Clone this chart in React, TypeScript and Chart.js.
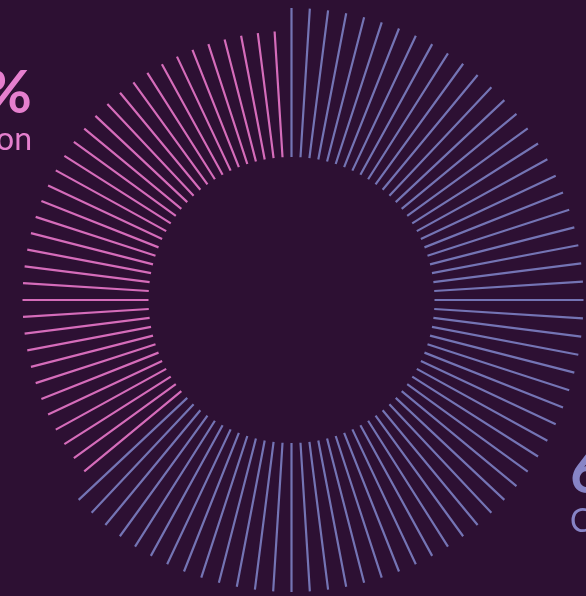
import React, { useEffect, useRef } from "react";
import { Chart, registerables } from "chart.js";

Chart.register(...registerables);

// ---- data ----
const seriesNames = ["Completion", "Abandon"];
const seriesShares = [64, 36]; // percent of the 100 ticks
const shareLabels = ["64%", "36%"];
const totalTicks = 100;

// ---- styling / geometry (not data) ----
const W = 586;
const H = 596;
const CX = 291.5;
const CY = 300;
const INNER_R = 143;
const OUTER_R = [292, 269];
const LINE_COLORS = ["#7474b4", "#d56cba"];
const TEXT_COLORS = ["#8784c6", "#e57fce"];
const BG = "#2d1033";

function buildPoints(startTick: number, count: number, outer: number) {
  const pts: { x: number; y: number | null }[] = [];
  for (let i = 0; i < count; i++) {
    const a = ((startTick + i) / totalTicks) * Math.PI * 2;
    const s = Math.sin(a);
    const c = Math.cos(a);
    pts.push({ x: INNER_R * s, y: INNER_R * c });
    pts.push({ x: outer * s, y: outer * c });
    pts.push({ x: outer * s, y: null });
  }
  return pts;
}

export default function App() {
  const ref = useRef<HTMLCanvasElement | null>(null);

  useEffect(() => {
    if (!ref.current) return;
    let start = 0;
    const datasets = seriesNames.map((name, i) => {
      const ds = {
        label: name,
        data: buildPoints(start, seriesShares[i], OUTER_R[i]),
        showLine: true,
        spanGaps: false,
        borderColor: LINE_COLORS[i],
        backgroundColor: LINE_COLORS[i],
        borderWidth: 2.2,
        borderCapStyle: "butt" as const,
        pointRadius: 0,
        pointHoverRadius: 0,
        fill: false,
        tension: 0,
      };
      start += seriesShares[i];
      return ds;
    });

    const chart = new Chart(ref.current, {
      type: "scatter",
      data: { datasets },
      options: {
        animation: false,
        responsive: false,
        maintainAspectRatio: false,
        layout: { padding: 0 },
        plugins: {
          legend: { display: false },
          tooltip: { enabled: false },
        },
        scales: {
          x: { type: "linear", display: false, min: -CX, max: W - CX },
          y: { type: "linear", display: false, min: -(H - CY), max: CY },
        },
      },
    });
    return () => chart.destroy();
  }, []);

  const font = "Lato, 'Open Sans', sans-serif";

  return (
    <div
      style={{
        position: "fixed",
        left: 0,
        top: 0,
        width: W,
        height: H,
        overflow: "hidden",
        background: BG,
      }}
    >
      <canvas
        ref={ref}
        width={W}
        height={H}
        style={{ position: "absolute", left: 0, top: 0, width: W, height: H }}
      />
      {/* left label (Abandon) - right aligned */}
      <div
        style={{
          position: "absolute",
          right: W - 32,
          top: 60,
          textAlign: "right",
          fontFamily: font,
          color: TEXT_COLORS[1],
          whiteSpace: "nowrap",
        }}
      >
        <div style={{ fontSize: 60, fontWeight: 700, lineHeight: "60px" }}>{shareLabels[1]}</div>
        <div style={{ fontSize: 32, lineHeight: "40px", marginTop: -2 }}>{seriesNames[1]}</div>
      </div>
      {/* right label (Completion) - left aligned */}
      <div
        style={{
          position: "absolute",
          left: 570,
          top: 440,
          textAlign: "left",
          fontFamily: font,
          color: TEXT_COLORS[0],
          whiteSpace: "nowrap",
        }}
      >
        <div style={{ fontSize: 60, fontWeight: 700, lineHeight: "60px" }}>{shareLabels[0]}</div>
        <div style={{ fontSize: 32, lineHeight: "40px" }}>{seriesNames[0]}</div>
      </div>
    </div>
  );
}
